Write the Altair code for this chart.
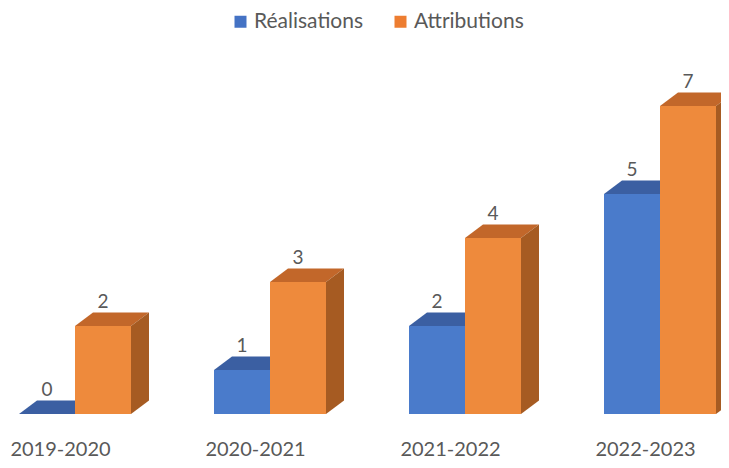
import altair as alt
import pandas as pd

# ---- data ----
categories = ["2019-2020", "2020-2021", "2021-2022", "2022-2023"]
realisations = [0, 1, 2, 5]
attributions = [2, 3, 4, 7]
series_names = ["Réalisations", "Attributions"]
series_values = [realisations, attributions]

# ---- style ----
legend_colors = ["#4472C4", "#ED7D31"]
front_colors = ["#4A7BCB", "#EE8A3C"]
top_colors = ["#3B5FA2", "#C2672A"]
side_colors = ["#33528C", "#A65B22"]
FONT = "Lato"
TEXT_COLOR = "#595959"

W, H = 713, 452
BASE_PX = 406          # chart pixel row of value 0
PX_PER_UNIT = 44       # pixels per value unit
GROUP_PX = 195         # pixels between groups
FIRST_GROUP_PX = 67    # chart pixel of the first group's centre
y_domain = [-(H - BASE_PX) / PX_PER_UNIT, BASE_PX / PX_PER_UNIT]
x_domain = [-FIRST_GROUP_PX / GROUP_PX, (W - FIRST_GROUP_PX) / GROUP_PX]
BW = 56 / GROUP_PX      # bar width in group units
DX = 18 / GROUP_PX      # 3D depth, horizontal
DY = 13.5 / PX_PER_UNIT  # 3D depth, vertical

xs = alt.Scale(domain=x_domain, nice=False, zero=False)
ys = alt.Scale(domain=y_domain, nice=False, zero=False)

layers = []
label_rows = []
for s, (name, vals) in enumerate(zip(series_names, series_values)):
    front_rows, top_rows, side_rows = [], [], []
    for i, v in enumerate(vals):
        x0 = i - BW if s == 0 else i
        x1 = x0 + BW
        pid = f"{s}-{i}"
        front_rows.append({"x0": x0, "x1": x1, "zero": 0, "v": v})
        top_rows += [
            {"pid": pid, "x": x0, "lo": v, "hi": v},
            {"pid": pid, "x": x0 + DX, "lo": v, "hi": v + DY},
            {"pid": pid, "x": x1, "lo": v, "hi": v + DY},
            {"pid": pid, "x": x1 + DX, "lo": v + DY, "hi": v + DY},
        ]
        side_rows += [
            {"pid": pid, "x": x1, "lo": 0, "hi": v},
            {"pid": pid, "x": x1 + DX, "lo": DY, "hi": v + DY},
        ]
        label_rows.append({"x": (x0 + x1) / 2, "y": v + DY, "v": v})

    layers.append(
        alt.Chart(pd.DataFrame(front_rows)).mark_rect(color=front_colors[s]).encode(
            x=alt.X("x0:Q", scale=xs, axis=None), x2="x1:Q",
            y=alt.Y("zero:Q", scale=ys, axis=None), y2="v:Q",
        )
    )
    layers.append(
        alt.Chart(pd.DataFrame(top_rows)).mark_area(color=top_colors[s]).encode(
            x=alt.X("x:Q", scale=xs, axis=None),
            y=alt.Y("lo:Q", scale=ys, axis=None), y2="hi:Q",
            detail="pid:N",
        )
    )
    layers.append(
        alt.Chart(pd.DataFrame(side_rows)).mark_area(color=side_colors[s]).encode(
            x=alt.X("x:Q", scale=xs, axis=None),
            y=alt.Y("lo:Q", scale=ys, axis=None), y2="hi:Q",
            detail="pid:N",
        )
    )

# value labels
layers.append(
    alt.Chart(pd.DataFrame(label_rows)).mark_text(
        font=FONT, fontSize=19, color=TEXT_COLOR, baseline="alphabetic", dy=-5
    ).encode(
        x=alt.X("x:Q", scale=xs, axis=None),
        y=alt.Y("y:Q", scale=ys, axis=None),
        text="v:Q",
    )
)

# category labels
cat_df = pd.DataFrame({
    "x": [i - 14.5 / GROUP_PX for i in range(len(categories))],
    "y": [-(448 - BASE_PX) / PX_PER_UNIT] * len(categories),
    "cat": categories,
})
layers.append(
    alt.Chart(cat_df).mark_text(
        font=FONT, fontSize=20, color=TEXT_COLOR, baseline="alphabetic", align="center"
    ).encode(
        x=alt.X("x:Q", scale=xs, axis=None),
        y=alt.Y("y:Q", scale=ys, axis=None),
        text="cat:N",
    )
)

# legend carrier
legend_df = pd.DataFrame({"series": series_names})
layers.append(
    alt.Chart(legend_df).mark_point(shape="square", filled=True, opacity=0).encode(
        color=alt.Color(
            "series:N",
            scale=alt.Scale(domain=series_names, range=legend_colors),
            legend=alt.Legend(
                orient="none", legendX=222, legendY=3, direction="horizontal",
                title=None, symbolType="square", symbolSize=144, symbolOpacity=1,
                symbolStrokeWidth=0, labelFont=FONT, labelFontSize=21,
                labelColor=TEXT_COLOR, labelOffset=3, columnPadding=26, padding=0,
            ),
        )
    )
)

chart = alt.layer(*layers).properties(
    width=W, height=H, padding=0, autosize=alt.AutoSizeParams(type="none"),
    background="white",
).configure_view(stroke=None)

chart.save("out.html", embed_options={"renderer": "svg", "actions": False})
